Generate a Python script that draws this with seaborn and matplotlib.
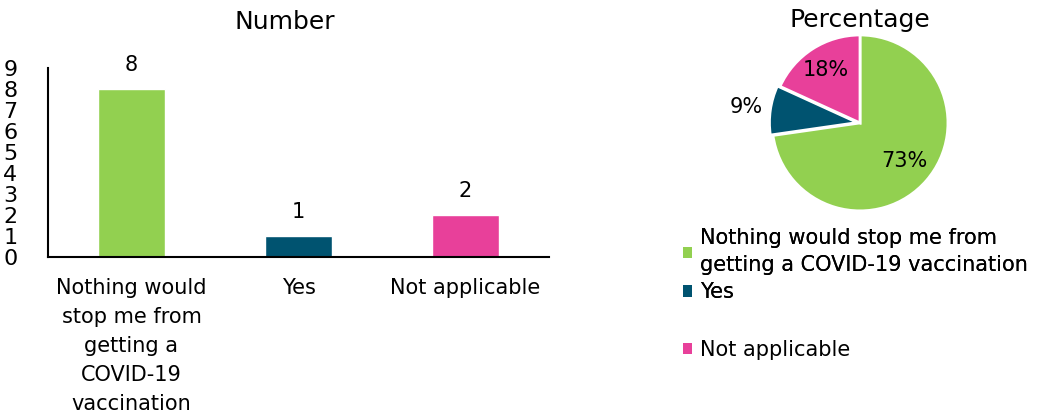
import math
import matplotlib
matplotlib.use("Agg")
import matplotlib.pyplot as plt
from matplotlib.patches import Patch
import seaborn as sns
import pandas as pd

# Survey responses
categories = [
    "Nothing would\nstop me from\ngetting a\nCOVID-19\nvaccination",
    "Yes",
    "Not applicable",
]
legend_labels = [
    "Nothing would stop me from\ngetting a COVID-19 vaccination",
    "Yes",
    "Not applicable",
]
counts = [8, 1, 2]
colors = ["#92D050", "#005370", "#E8409A"]
y_ticks = list(range(0, 10))

sns.set_style("white")
plt.rcParams["font.family"] = ["DejaVu Sans"]
plt.rcParams["text.color"] = "black"
plt.rcParams["xtick.color"] = "black"
plt.rcParams["ytick.color"] = "black"

fig = plt.figure(figsize=(10.52, 4.16), dpi=100)

# ---- Bar chart: counts ----
ax = fig.add_axes([0.0456, 0.382, 0.4764, 0.455])
df = pd.DataFrame({"category": categories, "count": counts})
sns.barplot(data=df, x="category", y="count", hue="category",
            palette=colors, width=0.4, legend=False, ax=ax, saturation=1)
for cont in ax.containers:
    ax.bar_label(cont, fontsize=15, padding=10, color="black")
ax.set_xlim(-0.5, 2.5)
ax.set_ylim(0, 9)
ax.set_yticks(y_ticks)
ax.set_yticklabels([str(t) for t in y_ticks], fontsize=16)
ax.tick_params(axis="y", length=0, pad=22)
ax.tick_params(axis="x", length=0, pad=15, labelsize=15)
for lbl in ax.get_xticklabels():
    lbl.set_linespacing(1.57)
ax.set_xlabel("")
ax.set_ylabel("")
sns.despine(ax=ax)
for side in ("left", "bottom"):
    ax.spines[side].set_color("black")
    ax.spines[side].set_linewidth(1.5)
fig.text(285 / 1052, 1 - 22 / 416, "Number", fontsize=18, ha="center", va="center")

# ---- Pie chart: percentages ----
pax = fig.add_axes([0.713, 0.44, 0.209, 0.529])
total = sum(counts)
wedges, _ = pax.pie(counts, colors=colors, startangle=90, counterclock=False,
                    explode=[0, 0.03, 0],
                    wedgeprops=dict(edgecolor="white", linewidth=2))
label_radius = [0.66, 1.28, 0.72]
for w, c, r in zip(wedges, counts, label_radius):
    mid = math.radians((w.theta1 + w.theta2) / 2)
    cx, cy = w.center
    pax.text(cx + r * math.cos(mid), cy + r * math.sin(mid),
             f"{round(100 * c / total)}%", ha="center", va="center", fontsize=15)
pax.set_xlim(-1.25, 1.25)
pax.set_ylim(-1.25, 1.25)
pax.set_aspect("equal")
fig.text(860 / 1052, 1 - 20 / 416, "Percentage", fontsize=18, ha="center", va="center")

# Legend: first two entries together, last entry set apart below
handles = [Patch(facecolor=c, edgecolor="none") for c in colors]
leg_kw = dict(loc="upper left", frameon=False, fontsize=15, handlelength=0.45,
              handleheight=0.45, handletextpad=0.35, borderaxespad=0, borderpad=0)
leg1 = fig.legend(handles[:2], legend_labels[:2],
                  bbox_to_anchor=(683 / 1052, 1 - 228 / 416),
                  labelspacing=0.35, **leg_kw)
for t in leg1.get_texts():
    t.set_linespacing(1.45)
fig.add_artist(leg1)
fig.legend(handles[2:], legend_labels[2:],
           bbox_to_anchor=(683 / 1052, 1 - 340 / 416), **leg_kw)

fig.savefig("out.png", dpi=100)
